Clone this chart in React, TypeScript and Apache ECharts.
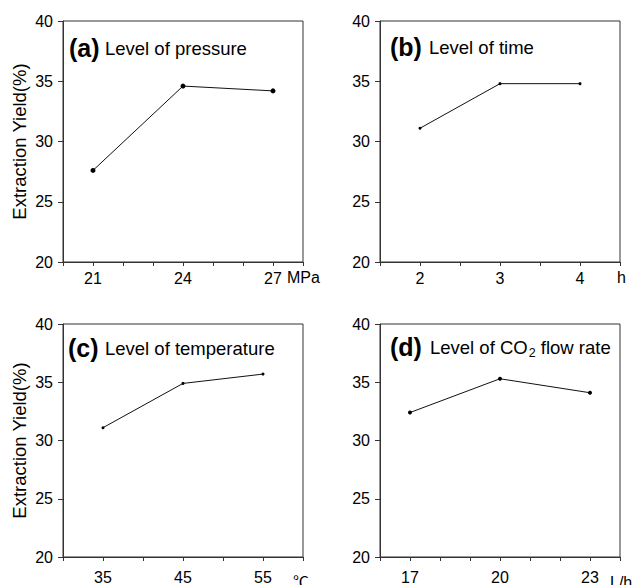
import React, { useEffect, useRef } from 'react';
import * as echarts from 'echarts';

// ---- data ----
const yTicks = [20, 25, 30, 35, 40];

const pressureX = [21, 24, 27];
const pressureY = [27.6, 34.6, 34.2];

const timeX = [2, 3, 4];
const timeY = [31.1, 34.8, 34.8];

const tempX = [35, 45, 55];
const tempY = [31.1, 34.9, 35.7];

const flowX = [17, 20, 23];
const flowY = [32.4, 35.3, 34.1];

const panelLetters = ['(a)', '(b)', '(c)', '(d)'];
const panelTitles = [
  'Level of pressure',
  'Level of time',
  'Level of temperature',
  '{m|Level of CO}{s|2}{m| flow rate}',
];
const units = ['MPa', 'h', '℃', 'L/h'];
const yAxisTitle = 'Extraction Yield(%)';

const FONT = '"Liberation Sans", Arial, Helvetica, sans-serif';
const AXIS_COLOR = '#333';

export default function App() {
  const ref = useRef<HTMLDivElement>(null);

  useEffect(() => {
    if (!ref.current) return;
    const chart = echarts.init(ref.current, undefined, { renderer: 'svg' });

    const panels = [
      { left: 63, top: 21, h: 241, xs: pressureX, ys: pressureY, labels: pressureX, min: 20, max: 28, interval: 1, sym: 5, yTitle: true, margin: 8 },
      { left: 380, top: 21, h: 241, xs: timeX, ys: timeY, labels: timeX, min: 1.5, max: 4.5, interval: 0.5, sym: 3, yTitle: false, margin: 8 },
      { left: 63, top: 324, h: 240, xs: tempX, ys: tempY, labels: tempX, min: 30, max: 60, interval: 5, sym: 3, yTitle: true, margin: 12 },
      { left: 380, top: 324, h: 240, xs: flowX, ys: flowY, labels: flowX, min: 16, max: 24, interval: 1, sym: 4, yTitle: false, margin: 12 },
    ];

    const grid = panels.map((p) => ({
      left: p.left,
      top: p.top,
      width: 240,
      height: p.h,
      show: true,
      borderColor: AXIS_COLOR,
      borderWidth: 1,
      backgroundColor: 'transparent',
      containLabel: false,
    }));

    const xAxis = panels.map((p, i) => ({
      type: 'value',
      gridIndex: i,
      min: p.min,
      max: p.max,
      interval: p.interval,
      axisLine: { show: true, onZero: false, lineStyle: { color: AXIS_COLOR, width: 1 } },
      axisTick: { show: true, inside: false, length: 4, lineStyle: { color: AXIS_COLOR, width: 1 } },
      splitLine: { show: false },
      axisLabel: {
        show: true,
        margin: p.margin,
        color: '#000',
        fontSize: 16,
        fontFamily: FONT,
        showMinLabel: true,
        showMaxLabel: true,
        formatter: (v: number) => (p.labels.some((l) => Math.abs(l - v) < 1e-6) ? String(Math.round(v)) : ''),
      },
    }));

    const yAxis = panels.map((p, i) => ({
      type: 'value',
      gridIndex: i,
      min: yTicks[0],
      max: yTicks[yTicks.length - 1],
      interval: yTicks[1] - yTicks[0],
      name: p.yTitle ? yAxisTitle : '',
      nameLocation: 'middle',
      nameGap: 34,
      nameRotate: 90,
      nameTextStyle: { color: '#000', fontSize: 18.5, fontFamily: FONT },
      axisLine: { show: true, lineStyle: { color: AXIS_COLOR, width: 1 } },
      axisTick: { show: true, inside: false, length: 5, lineStyle: { color: AXIS_COLOR, width: 1 } },
      splitLine: { show: false },
      axisLabel: { show: true, margin: 10, color: '#000', fontSize: 16, fontFamily: FONT },
    }));

    const series = panels.map((p, i) => ({
      type: 'line',
      xAxisIndex: i,
      yAxisIndex: i,
      data: p.xs.map((x, k) => [x, p.ys[k]]),
      symbol: 'circle',
      symbolSize: p.sym,
      showSymbol: true,
      lineStyle: { color: '#111', width: 1 },
      itemStyle: { color: '#000' },
      silent: true,
    }));

    // layout for annotation texts
    const letterPos = [
      [69, 48],
      [390, 47],
      [68, 348],
      [390, 347],
    ];
    const titleX = [105, 429, 105, 430];
    const unitPos = [
      [287, 277],
      [617, 277],
      [293, 582],
      [610, 582],
    ];

    const graphic: any[] = [];
    panels.forEach((_, i) => {
      graphic.push({
        type: 'text',
        x: letterPos[i][0],
        y: letterPos[i][1],
        silent: true,
        style: {
          text: panelLetters[i],
          fill: '#000',
          font: `bold 25px ${FONT}`,
          textAlign: 'left',
          textVerticalAlign: 'middle',
        },
      });
      graphic.push({
        type: 'text',
        x: titleX[i],
        y: letterPos[i][1],
        silent: true,
        style: {
          text: panelTitles[i],
          fill: '#000',
          font: `18.5px ${FONT}`,
          textAlign: 'left',
          textVerticalAlign: 'middle',
          rich: {
            m: { fontSize: 18.5, fontFamily: FONT, lineHeight: 24, fill: '#000' },
            s: { fontSize: 12.5, fontFamily: FONT, lineHeight: 12, verticalAlign: 'bottom', fill: '#000', padding: [0, 0, 0, 1] },
          },
        },
      });
      graphic.push({
        type: 'text',
        x: unitPos[i][0],
        y: unitPos[i][1],
        silent: true,
        style: {
          text: units[i],
          fill: '#000',
          font: `16px ${FONT}, "Noto Sans CJK SC"`,
          textAlign: 'left',
          textVerticalAlign: 'middle',
        },
      });
    });

    chart.setOption({
      animation: false,
      backgroundColor: '#fff',
      textStyle: { fontFamily: FONT },
      grid,
      xAxis,
      yAxis,
      series,
      graphic,
    } as any);

    return () => chart.dispose();
  }, []);

  return (
    <div
      ref={ref}
      style={{ position: 'fixed', left: 0, top: 0, width: 633, height: 585, background: '#fff' }}
    />
  );
}
